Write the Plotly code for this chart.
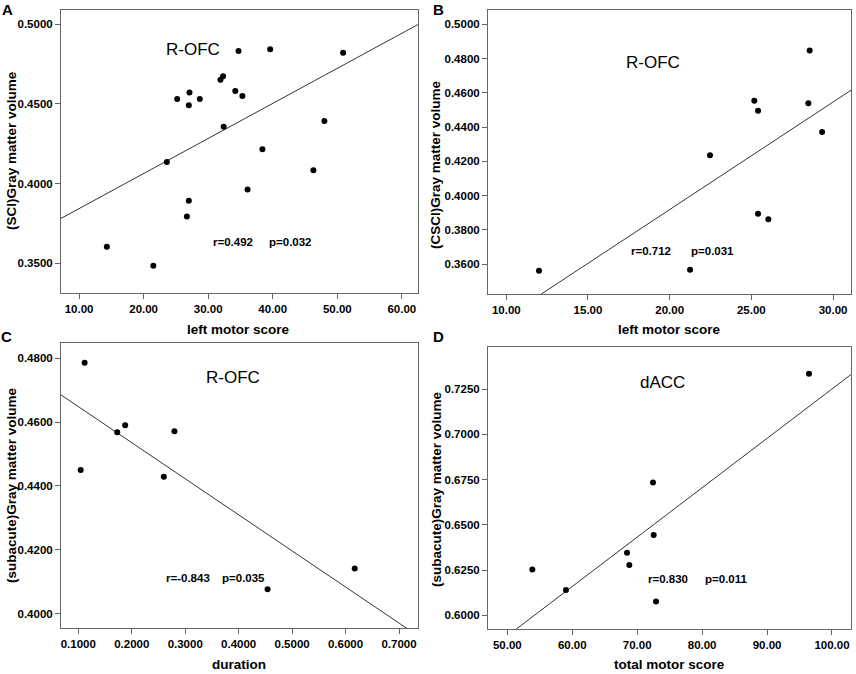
import plotly.graph_objects as go

W, H = 856, 674
FONT = "Arial, 'Liberation Sans', sans-serif"

# ---------------- data ----------------
# Panel A: SCI, left motor score vs gray matter volume (R-OFC)
a_x = [14.3, 21.5, 23.6, 25.2, 27.1, 27.0, 28.7, 27.0, 26.7, 31.9, 32.3,
       32.4, 34.2, 35.3, 34.7, 39.6, 38.4, 36.1, 46.3, 48.0, 50.9]
a_y = [0.3603, 0.3483, 0.4135, 0.4531, 0.4571, 0.4491, 0.4531, 0.3892, 0.3793,
       0.4652, 0.4673, 0.4357, 0.4581, 0.4550, 0.4832, 0.4843, 0.4215, 0.3963,
       0.4083, 0.4393, 0.4822]
a_fit = [0.3622, 0.002203]          # intercept, slope
a_xticks = [10, 20, 30, 40, 50, 60]
a_yticks = [0.35, 0.40, 0.45, 0.50]

# Panel B: CSCI, left motor score vs gray matter volume (R-OFC)
b_x = [12.0, 21.25, 22.47, 25.18, 25.41, 25.41, 26.04, 28.57, 28.49, 29.33]
b_y = [0.3561, 0.3567, 0.4235, 0.4554, 0.4495, 0.3894, 0.3861, 0.4848, 0.4540, 0.4371]
b_fit = [0.2662, 0.006281]
b_xticks = [10, 15, 20, 25, 30]
b_yticks = [0.36, 0.38, 0.40, 0.42, 0.44, 0.46, 0.48, 0.50]

# Panel C: subacute, duration vs gray matter volume (R-OFC)
c_x = [0.1118, 0.1044, 0.1728, 0.1877, 0.2599, 0.2798, 0.4541, 0.6171]
c_y = [0.4785, 0.4450, 0.4568, 0.4590, 0.4429, 0.4571, 0.4077, 0.4142]
c_fit = [0.4761, -0.1128]
c_xticks = [0.1, 0.2, 0.3, 0.4, 0.5, 0.6, 0.7]
c_yticks = [0.40, 0.42, 0.44, 0.46, 0.48]

# Panel D: subacute, total motor score vs gray matter volume (dACC)
d_x = [53.85, 59.03, 68.43, 68.79, 72.43, 72.54, 72.90, 96.46]
d_y = [0.6254, 0.6140, 0.6346, 0.6278, 0.6735, 0.6445, 0.6077, 0.7335]
d_fit = [0.4523, 0.002728]
d_xticks = [50, 60, 70, 80, 90, 100]
d_yticks = [0.600, 0.625, 0.650, 0.675, 0.700, 0.725]

panels = [
    dict(letter="A", region="R-OFC", r="r=0.492", p="p=0.032",
         x=a_x, y=a_y, fit=a_fit, xt=a_xticks, yt=a_yticks,
         xfmt=".2f", yfmt=".4f", xr=[7.2, 62.5], yr=[0.3312, 0.509],
         xtitle="left motor score", ytitle="(SCI)Gray matter volume",
         box=(61, 418, 10, 293), letter_pos=(8, 10), region_pos=(193, 49),
         r_pos=(211, 242), p_pos=(267, 242), xt_pos=(238, 329), yt_pos=(11, 151)),
    dict(letter="B", region="R-OFC", r="r=0.712", p="p=0.031",
         x=b_x, y=b_y, fit=b_fit, xt=b_xticks, yt=b_yticks,
         xfmt=".2f", yfmt=".4f", xr=[8.88, 31.1], yr=[0.3425, 0.5084],
         xtitle="left motor score", ytitle="(CSCI)Gray matter volume",
         box=(488, 851, 10, 294), letter_pos=(438, 10), region_pos=(653, 63),
         r_pos=(629, 251), p_pos=(689, 251), xt_pos=(669, 329), yt_pos=(436, 165)),
    dict(letter="C", region="R-OFC", r="r=-0.843", p="p=0.035",
         x=c_x, y=c_y, fit=c_fit, xt=c_xticks, yt=c_yticks,
         xfmt=".4f", yfmt=".4f", xr=[0.0676, 0.7355], yr=[0.3956, 0.4847],
         xtitle="duration", ytitle="(subacute)Gray matter volume",
         box=(61, 418, 343, 628), letter_pos=(7, 336), region_pos=(233, 377),
         r_pos=(164, 578), p_pos=(220, 578), xt_pos=(239, 664), yt_pos=(11, 485)),
    dict(letter="D", region="dACC", r="r=0.830", p="p=0.011",
         x=d_x, y=d_y, fit=d_fit, xt=d_xticks, yt=d_yticks,
         xfmt=".2f", yfmt=".4f", xr=[47.02, 102.93], yr=[0.5925, 0.7483],
         xtitle="total motor score", ytitle="(subacute)Gray matter volume",
         box=(488, 851, 347, 629), letter_pos=(438, 336), region_pos=(662, 382),
         r_pos=(646, 579), p_pos=(703, 579), xt_pos=(669, 664), yt_pos=(436, 489)),
]


def px(x):
    return x / W


def py(y):
    return 1 - y / H


fig = go.Figure()
annotations = []
layout_axes = {}

for i, p in enumerate(panels):
    n = "" if i == 0 else str(i + 1)
    x0, x1, y0, y1 = p["box"]
    b0, b1 = p["fit"]
    lx = list(p["xr"])
    ly = [b0 + b1 * v for v in lx]
    fig.add_trace(go.Scatter(x=lx, y=ly, mode="lines",
                             line=dict(color="#333333", width=1),
                             xaxis="x" + n, yaxis="y" + n, showlegend=False,
                             hoverinfo="skip"))
    fig.add_trace(go.Scatter(x=p["x"], y=p["y"], mode="markers",
                             marker=dict(color="black", size=6),
                             xaxis="x" + n, yaxis="y" + n, showlegend=False))
    common = dict(showgrid=False, zeroline=False, showline=True, mirror=True,
                  linecolor="#666666", linewidth=1, ticks="outside", ticklen=5,
                  tickcolor="#666666", tickwidth=1,
                  tickfont=dict(family=FONT, size=11.5, color="black", weight="bold"))
    layout_axes["xaxis" + n] = dict(common, domain=[px(x0), px(x1)], range=p["xr"],
                                    anchor="y" + n, tickvals=p["xt"], tickformat=p["xfmt"])
    layout_axes["yaxis" + n] = dict(common, domain=[py(y1), py(y0)], range=p["yr"],
                                    anchor="x" + n, tickvals=p["yt"], tickformat=p["yfmt"])

    def ann(text, pos, size, bold, xanchor="center", angle=0):
        annotations.append(dict(text=text, x=px(pos[0]), y=py(pos[1]),
                                xref="paper", yref="paper", showarrow=False,
                                xanchor=xanchor, yanchor="middle", textangle=angle,
                                font=dict(family=FONT, size=size, color="black",
                                          weight="bold" if bold else "normal")))

    ann(p["letter"], p["letter_pos"], 15, True)
    ann(p["region"], p["region_pos"], 17, False)
    ann(p["r"], p["r_pos"], 11.5, True, xanchor="left")
    ann(p["p"], p["p_pos"], 11.5, True, xanchor="left")
    ann(p["xtitle"], p["xt_pos"], 13.5, True)
    ann(p["ytitle"], p["yt_pos"], 13.5, True, angle=-90)

fig.update_layout(width=W, height=H, margin=dict(l=0, r=0, t=0, b=0),
                  plot_bgcolor="white", paper_bgcolor="white",
                  annotations=annotations, **layout_axes)

fig.write_html("out.html", config={"displayModeBar": False},
               post_script="document.body.style.margin='0';"
                           "document.body.style.overflow='hidden';")
